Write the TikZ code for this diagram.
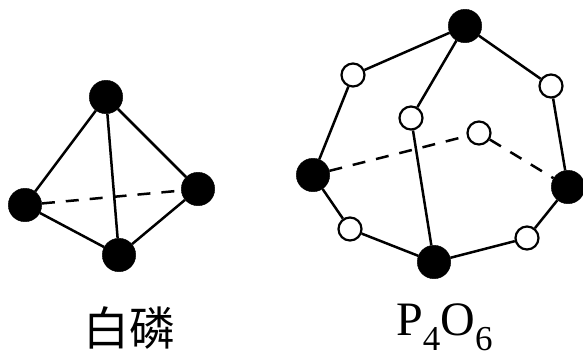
\documentclass[tikz,border=0pt]{standalone}
\usepackage{fontspec}
\setmainfont{Liberation Serif}
\newfontfamily\cjk{Noto Sans CJK SC}
\tikzset{
  patom/.style={circle,fill=black,draw=black,inner sep=0pt,minimum size=33.5bp},
  oatom/.style={circle,fill=white,draw=black,line width=2.2bp,inner sep=0pt,minimum size=23bp},
  bond/.style={line width=2.5bp},
  backbond/.style={line width=2.5bp,dash pattern=on 13bp off 11bp},
}
\newcommand{\lowdigit}[1]{\raisebox{-15bp}{\fontsize{35bp}{35bp}\selectfont #1}}
\begin{document}
\begin{tikzpicture}[x=1bp,y=-1bp]
  \useasboundingbox (0,0) rectangle (583,351);
  % white phosphorus
  \node[patom] (t) at (106,97) {};
  \node[patom] (l) at (25,205) {};
  \node[patom] (r) at (198,189) {};
  \node[patom] (b) at (119,255) {};
  \draw[bond] (t) -- (l);
  \draw[bond] (t) -- (r);
  \draw[bond] (t) -- (b);
  \draw[bond] (l) -- (b);
  \draw[bond] (r) -- (b);
  \draw[backbond] (l) -- (r);
  % P4O6
  \node[patom] (pt) at (465,26) {};
  \node[patom] (pl) at (313,175) {};
  \node[patom] (pr) at (568,187) {};
  \node[patom] (pb) at (434,262) {};
  \node[oatom] (o1) at (353,75) {};
  \node[oatom] (o2) at (551,86) {};
  \node[oatom] (o3) at (411,118) {};
  \node[oatom] (o4) at (479,133) {};
  \node[oatom] (o5) at (350,229) {};
  \node[oatom] (o6) at (527,238) {};
  \draw[bond] (pt) -- (o1) -- (pl);
  \draw[bond] (pt) -- (o2) -- (pr);
  \draw[bond] (pt) -- (o3) -- (pb);
  \draw[bond] (pl) -- (o5) -- (pb);
  \draw[bond] (pr) -- (o6) -- (pb);
  \draw[backbond] (pl) -- (o4);
  \draw[backbond] (o4) -- (pr);
  % labels
  \node[font=\cjk\fontsize{46bp}{46bp}\selectfont,inner sep=0pt,anchor=base west] (lw) at (83,345) {白磷};
  \node[font=\fontsize{48bp}{48bp}\selectfont,inner sep=0pt,anchor=base west] (lp) at (396,335) {P\lowdigit{4}O\lowdigit{6}};
\end{tikzpicture}
\end{document}
